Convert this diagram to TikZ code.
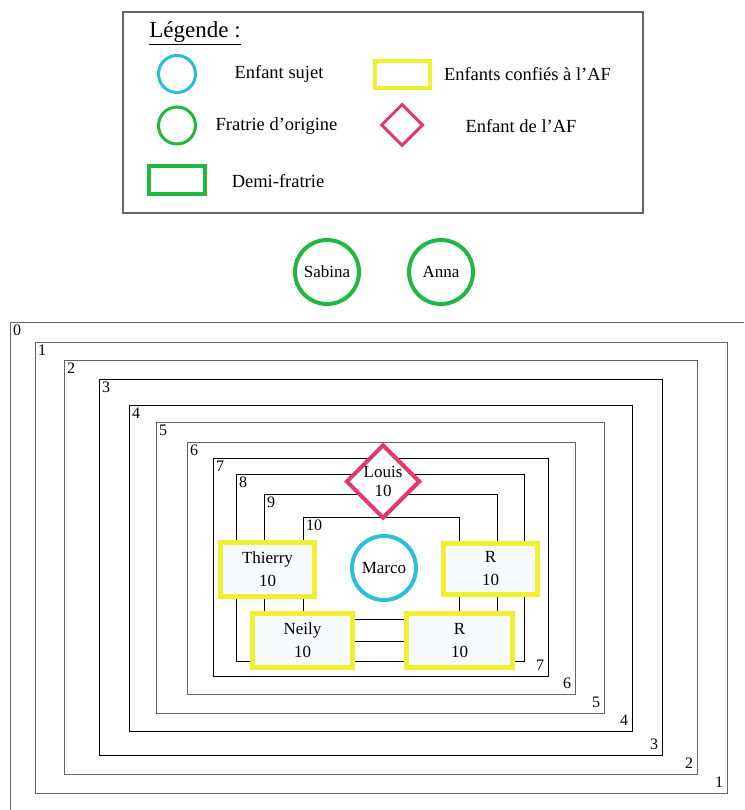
\documentclass[tikz,border=0pt]{standalone}
\usepackage{fontspec}
\setmainfont{Liberation Serif}
\usetikzlibrary{shapes.geometric}

\definecolor{sujet}{RGB}{40,190,220}
\definecolor{confie}{RGB}{240,240,50}
\definecolor{enfantaf}{RGB}{232,55,100}
\definecolor{fratrie}{RGB}{30,185,60}
\definecolor{boxfond}{RGB}{247,251,253}
\definecolor{trait}{RGB}{100,100,100}

\begin{document}
\begin{tikzpicture}[x=1pt,y=-1pt,
	txt/.style={font=\fontsize{18.5}{22}\selectfont},
	prenom/.style={font=\fontsize{17}{23}\selectfont, align=center},
	niveau/.style={font=\fontsize{16}{18}\selectfont, inner sep=1pt},
	sujetnode/.style={circle, draw=sujet, line width=4pt, fill=white, minimum size=64pt, inner sep=0pt},
	fratnode/.style={circle, draw=fratrie, line width=4pt, fill=white, minimum size=64pt, inner sep=0pt},
	confnode/.style={rectangle, draw=confie, line width=5pt, fill=boxfond, inner sep=0pt},
	afnode/.style={diamond, aspect=1, draw=enfantaf, line width=4pt, fill=white, minimum size=74pt, inner sep=0pt}]

	% Rahmen
	\useasboundingbox (0,0) rectangle (744,810);

	% Legende
	\draw[trait, line width=1.2pt] (123,12) rectangle (643,213);
	\node[font=\fontsize{23}{26}\selectfont] (titre) at (195,33) {\underline{Légende :}};

	\node[sujetnode, line width=3pt, minimum size=37pt] (lgSujet) at (177,74) {};
	\node[txt] (lgSujetTxt) at (279,74) {Enfant sujet};
	\node[confnode, line width=3.5pt, minimum width=55pt, minimum height=27pt, fill=white] (lgConf) at (402.5,74.5) {};
	\node[txt] (lgConfTxt) at (527.5,74) {Enfants confiés à l’AF};

	\node[fratnode, line width=3pt, minimum size=37pt] (lgFrat) at (177,125.5) {};
	\node[txt] (lgFratTxt) at (276.5,126) {Fratrie d’origine};
	\node[afnode, line width=3pt, minimum size=42pt] (lgAf) at (402,125) {};
	\node[txt] (lgAfTxt) at (521,126) {Enfant de l’AF};

	\node[draw=fratrie, line width=4pt, minimum width=56pt, minimum height=28pt, inner sep=0pt] (lgDemi) at (177,180) {};
	\node[txt] (lgDemiTxt) at (278,181) {Demi-fratrie};

	% Fratrie d'origine hors cercles
	\node[fratnode, prenom] (sabina) at (327,272) {Sabina};
	\node[fratnode, prenom] (anna) at (441,272) {Anna};

	% Cercle 0
	\draw[trait, line width=1pt] (10,810) -- (10,322) -- (744,322);
	\node[niveau, anchor=north west] (n0) at (12,324) {0};

	% Cercles 1 a 10
	\foreach \i/\xa/\ya/\xb/\yb/\c in {1/35/342/727/793/trait, 2/64/360/697/774/trait,
		3/99/379/662/755/black, 4/129/405/632/731/black, 5/156/422/604/713/trait,
		6/187/442/575/694/trait, 7/213/458/548/676/black, 8/236/474/524/661/black,
		9/264/494/497/641/black, 10/303/517/459/619/black}{
		\draw[\c, line width=1pt] (\xa,\ya) rectangle (\xb,\yb);
		\node[niveau, anchor=north west] (h\i) at (\xa+2,\ya+2) {\i};
	}

	% Numeros en bas a droite
	\foreach \i/\xb/\yb in {1/727/793, 2/697/774, 3/662/755, 4/632/731,
		5/604/713, 6/575/694, 7/548/676}{
		\node[niveau] (b\i) at (\xb-8,\yb-11) {\i};
	}

	% Enfant sujet
	\node[sujetnode, prenom] (marco) at (384,568) {Marco};

	% Enfant de l'AF
	\node[afnode, prenom, font=\fontsize{17}{19}\selectfont] (louis) at (383,481.5) {Louis\\10};

	% Enfants confies
	\node[confnode, prenom, minimum width=94pt, minimum height=54pt] (thierry) at (267.5,569.5) {Thierry\\10};
	\node[confnode, prenom, minimum width=94pt, minimum height=51pt] (r1) at (490.5,569) {R\\10};
	\node[confnode, prenom, minimum width=100pt, minimum height=54pt] (neily) at (302.5,640.5) {Neily\\10};
	\node[confnode, prenom, minimum width=106pt, minimum height=54pt] (r2) at (459.5,640.5) {R\\10};

\end{tikzpicture}
\end{document}
